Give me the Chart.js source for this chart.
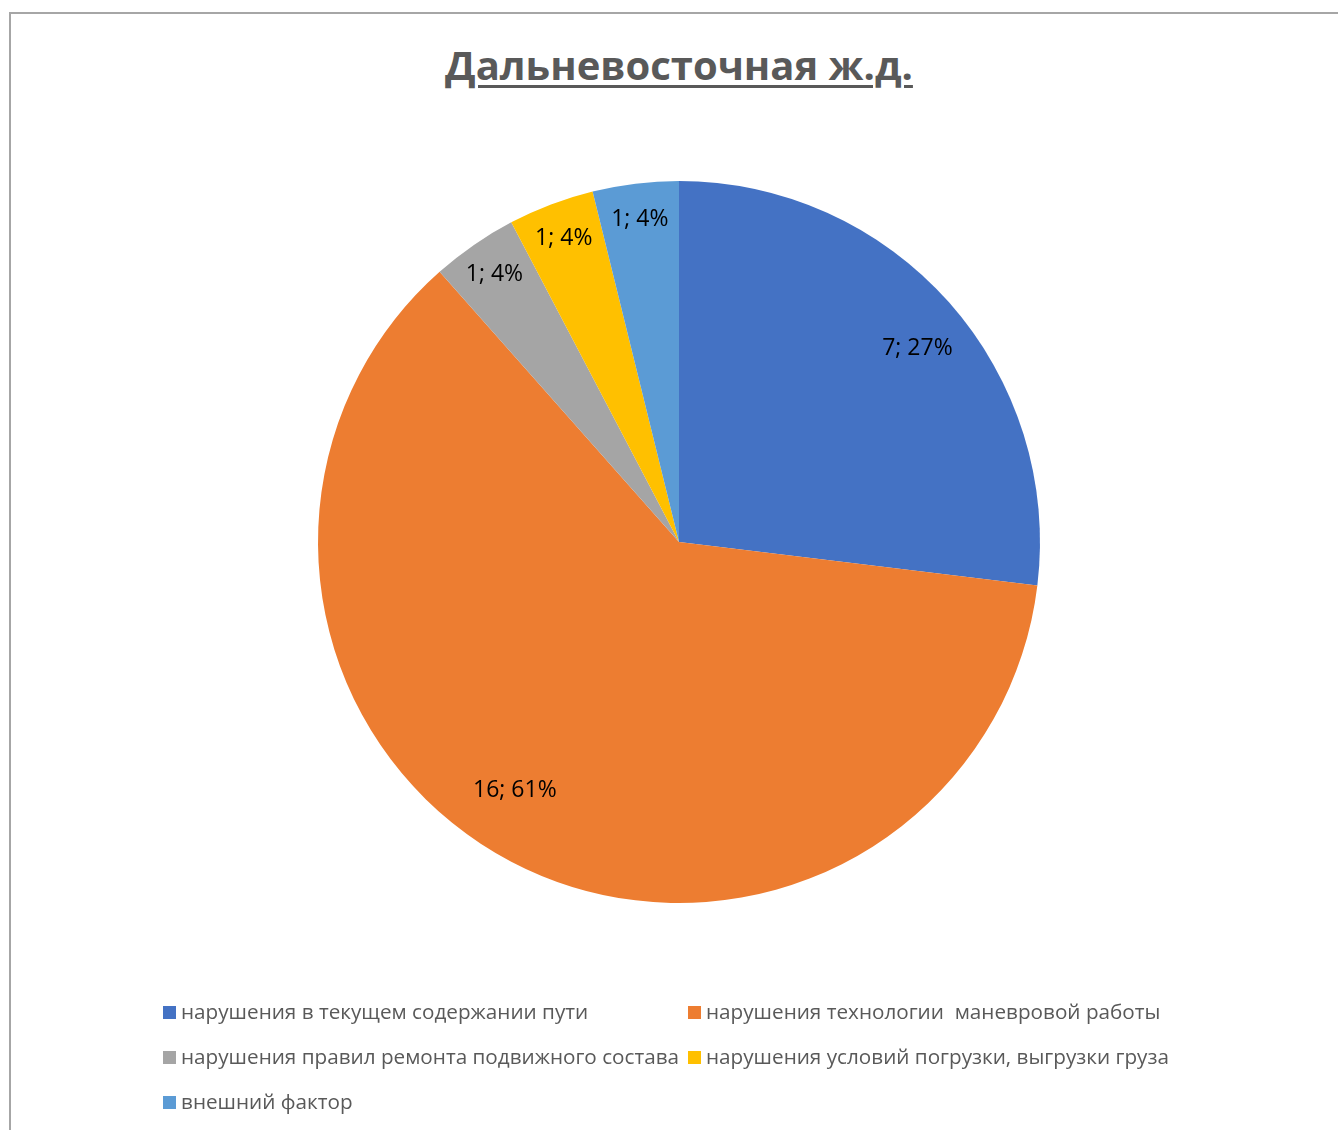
<!DOCTYPE html>
<html lang="ru">
<head>
<meta charset="utf-8">
<title>Дальневосточная ж.д.</title>
<script src="https://cdn.jsdelivr.net/npm/chart.js@4.4.1/dist/chart.umd.min.js"></script>
<style>
	html, body { margin:0; padding:0; background:#fff; }
	body { width:1338px; height:1130px; position:relative; overflow:hidden; font-family:"Open Sans", "Noto Sans", sans-serif; }
	.frame { position:absolute; left:9px; top:12px; width:1400px; height:1200px; border-left:2px solid #a6a6a6; border-top:2px solid #a6a6a6; }
	#title { position:absolute; left:0; width:1358px; top:37px; text-align:center; font-size:40px; font-weight:700; color:#595959; text-decoration:underline; text-decoration-thickness:3px; text-underline-offset:5px; }
	#chart { position:absolute; left:0; top:0; }
	#legend { position:absolute; left:163px; top:996px; }
	.li { position:absolute; white-space:pre; font-size:20.7px; color:#595959; line-height:30px; }
	.li i { display:inline-block; width:13px; height:13px; margin-right:5px; vertical-align:0px; }
</style>
</head>
<body>
<div class="frame"></div>
<div id="title">Дальневосточная ж.д.</div>
<canvas id="chart" width="1338" height="1130"></canvas>
<div id="legend"></div>
<script>
(function(){
	const labels = [
		'нарушения в текущем содержании пути',
		'нарушения технологии  маневровой работы',
		'нарушения правил ремонта подвижного состава',
		'нарушения условий погрузки, выгрузки груза',
		'внешний фактор'
	];
	const counts = [7, 16, 1, 1, 1];
	const percents = [27, 61, 4, 4, 4];
	const colors = ['#4472C4', '#ED7D31', '#A5A5A5', '#FFC000', '#5B9BD5'];

	// data labels "n; p%" inside each slice (best-fit like excel, tweaked by hand)
	const sliceLabels = {
		id: 'sliceLabels',
		afterDatasetsDraw(chart) {
			const ctx = chart.ctx;
			const meta = chart.getDatasetMeta(0);
			ctx.save();
			ctx.font = '23px "Open Sans", sans-serif';
			ctx.fillStyle = '#000';
			ctx.textAlign = 'center';
			ctx.textBaseline = 'middle';
			meta.data.forEach((arc, i) => {
				const p = arc.getProps(['x','y','startAngle','endAngle','outerRadius'], true);
				const span = p.endAngle - p.startAngle;
				let mid = (p.startAngle + p.endAngle) / 2;
				let k = 0.9;
				if (span > 1) { mid += span * 0.026; k = span > 3 ? 0.825 : 0.85; }
				const x = p.x + Math.cos(mid) * p.outerRadius * k;
				const y = p.y + Math.sin(mid) * p.outerRadius * k;
				ctx.fillText(`${counts[i]}; ${percents[i]}%`, x, y);
			});
			ctx.restore();
		}
	};

	new Chart(document.getElementById('chart'), {
		type: 'pie',
		data: { labels, datasets: [{ data: counts, backgroundColor: colors, borderWidth: 0 }] },
		options: {
			responsive: false,
			animation: false,
			layout: { padding: { left: 318, top: 181, right: 298, bottom: 227 } },
			plugins: { legend: { display: false }, title: { display: false }, tooltip: { enabled: false } }
		},
		plugins: [sliceLabels]
	});

	const legend = document.getElementById('legend');
	labels.forEach((name, i) => {
		const el = document.createElement('div');
		el.className = 'li';
		el.style.left = (i % 2) * 525 + 'px';
		el.style.top = Math.floor(i / 2) * 45 + 'px';
		el.innerHTML = `<i style="background:${colors[i]}"></i>${name}`;
		legend.appendChild(el);
	});
})();
</script>
</body>
</html>
